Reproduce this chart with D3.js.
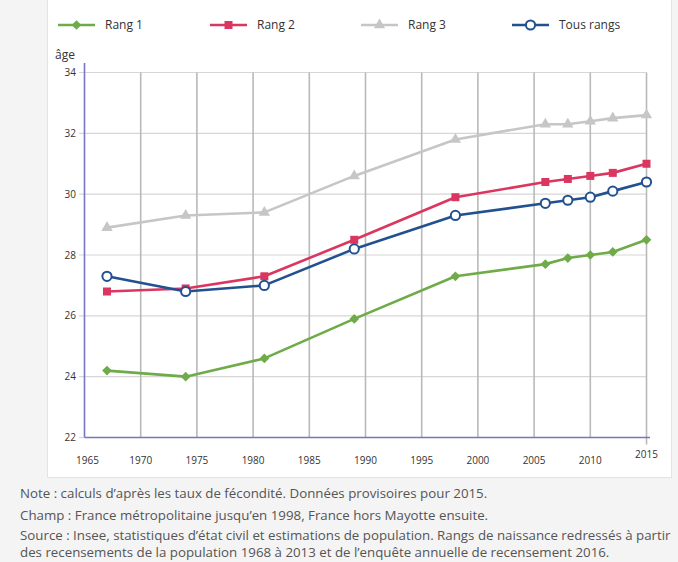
<!DOCTYPE html>
<html><head><meta charset="utf-8">
<script src="https://cdn.jsdelivr.net/npm/d3@7"></script>
<style>
html,body{margin:0;padding:0;background:#f4f4f4;overflow:hidden;}
svg{display:block;font-family:"Open Sans",sans-serif;}
</style></head>
<body><svg id="c" width="678" height="562"></svg>
<script>
const years = [1967, 1974, 1981, 1989, 1998, 2006, 2008, 2010, 2012, 2015];
const rang1 = [24.2, 24.0, 24.6, 25.9, 27.3, 27.7, 27.9, 28.0, 28.1, 28.5];
const rang2 = [26.8, 26.9, 27.3, 28.5, 29.9, 30.4, 30.5, 30.6, 30.7, 31.0];
const rang3 = [28.9, 29.3, 29.4, 30.6, 31.8, 32.3, 32.3, 32.4, 32.5, 32.6];
const tous  = [27.3, 26.8, 27.0, 28.2, 29.3, 29.7, 29.8, 29.9, 30.1, 30.4];
const seriesNames = ["Rang 1", "Rang 2", "Rang 3", "Tous rangs"];
const xTicks = [1965, 1970, 1975, 1980, 1985, 1990, 1995, 2000, 2005, 2010, 2015];
const yTicks = [22, 24, 26, 28, 30, 32, 34];
const yLabel = "âge";
const notes = [
  "Note : calculs d’après les taux de fécondité. Données provisoires pour 2015.",
  "Champ : France métropolitaine jusqu’en 1998, France hors Mayotte ensuite.",
  "Source : Insee, statistiques d’état civil et estimations de population. Rangs de naissance redressés à partir",
  "des recensements de la population 1968 à 2013 et de l’enquête annuelle de recensement 2016."
];

const series = [
  {name: seriesNames[0], values: rang1, color: "#6fab49", marker: "diamond"},
  {name: seriesNames[1], values: rang2, color: "#da3660", marker: "square"},
  {name: seriesNames[2], values: rang3, color: "#c6c6c6", marker: "triangle"},
  {name: seriesNames[3], values: tous,  color: "#225190", marker: "circle"}
];

const svg = d3.select("#c");
// white panel
svg.append("rect").attr("x", 47.5).attr("y", -5).attr("width", 624).attr("height", 482.5)
  .attr("fill", "#fff").attr("stroke", "#e3e3e3");

const x = d3.scaleLinear().domain([1965, 2015]).range([84.5, 646.5]);
const y = d3.scaleLinear().domain([22, 34]).range([437.5, 72.5]);

// horizontal grid
svg.append("g").selectAll("line").data(yTicks.slice(1)).join("line")
  .attr("x1", 79).attr("x2", x(2015)).attr("y1", d => y(d)).attr("y2", d => y(d))
  .attr("stroke", "#d6d6d6").attr("stroke-width", 1.2);
// vertical grid
svg.append("g").selectAll("line").data(xTicks.slice(1)).join("line")
  .attr("x1", d => x(d)).attr("x2", d => x(d))
  .attr("y1", y(34)).attr("y2", d => d === 2015 ? y(22) + 7 : y(22))
  .attr("stroke", "#b9b9b9").attr("stroke-width", 1.6);

// axes lines
svg.append("line").attr("x1", x(1965)).attr("x2", 650).attr("y1", y(22)).attr("y2", y(22))
  .attr("stroke", "#7676c4").attr("stroke-width", 1.6);
svg.append("line").attr("x1", 79).attr("x2", x(1965)).attr("y1", y(22)).attr("y2", y(22))
  .attr("stroke", "#d6d6d6").attr("stroke-width", 1.2);
svg.append("line").attr("x1", x(1965)).attr("x2", x(1965)).attr("y1", 63).attr("y2", y(22))
  .attr("stroke", "#7676c4").attr("stroke-width", 1.6);

// y tick labels
svg.append("g").selectAll("text").data(yTicks).join("text")
  .attr("x", 76).attr("y", d => y(d)).attr("dy", "0.35em").attr("text-anchor", "end")
  .attr("font-size", 10).attr("fill", "#333").text(d => d);
// x tick labels
svg.append("g").selectAll("text").data(xTicks).join("text")
  .attr("x", d => x(d) + (d === 1965 ? 3 : 0)).attr("y", d => d === 2015 ? 458 : 464)
  .attr("text-anchor", "middle").attr("font-size", 10).attr("fill", "#333").text(d => d);
// y label
svg.append("text").attr("x", 55).attr("y", 59).attr("font-size", 12).attr("fill", "#333").text(yLabel);

function drawMarker(g, type, color, cx, cy) {
  if (type === "diamond") {
    g.append("path").attr("d", d3.symbol(d3.symbolDiamond2, 60)()).attr("transform", `translate(${cx},${cy})`)
      .attr("fill", color);
  } else if (type === "square") {
    g.append("rect").attr("x", cx - 4).attr("y", cy - 4).attr("width", 8).attr("height", 8).attr("fill", color);
  } else if (type === "triangle") {
    g.append("path").attr("d", d3.symbol(d3.symbolTriangle, 55)()).attr("transform", `translate(${cx},${cy})`)
      .attr("fill", color);
  } else {
    g.append("circle").attr("cx", cx).attr("cy", cy).attr("r", 4.6).attr("fill", "#fff")
      .attr("stroke", color).attr("stroke-width", 2);
  }
}

const line = d3.line().x((d, i) => x(years[i])).y(d => y(d));
series.forEach(s => {
  const g = svg.append("g");
  g.append("path").attr("d", line(s.values)).attr("fill", "none").attr("stroke", s.color)
    .attr("stroke-width", 2.6).attr("stroke-linejoin", "round");
  s.values.forEach((v, i) => drawMarker(g, s.marker, s.color, x(years[i]), y(v)));
});

// legend
const legX = [58, 210, 361, 512];
series.forEach((s, i) => {
  const g = svg.append("g");
  g.append("line").attr("x1", legX[i]).attr("x2", legX[i] + 37).attr("y1", 25).attr("y2", 25)
    .attr("stroke", s.color).attr("stroke-width", 2.6);
  drawMarker(g, s.marker, s.color, legX[i] + 18.5, 25);
  g.append("text").attr("x", legX[i] + 47).attr("y", 25).attr("dy", "0.35em")
    .attr("font-size", 12).attr("fill", "#333").text(s.name);
});

// notes
const noteY = [498, 520, 540, 557];
svg.append("g").selectAll("text").data(notes).join("text")
  .attr("x", 20).attr("y", (d, i) => noteY[i]).attr("font-size", 13.3).attr("fill", "#555")
  .text(d => d);
</script></body></html>
